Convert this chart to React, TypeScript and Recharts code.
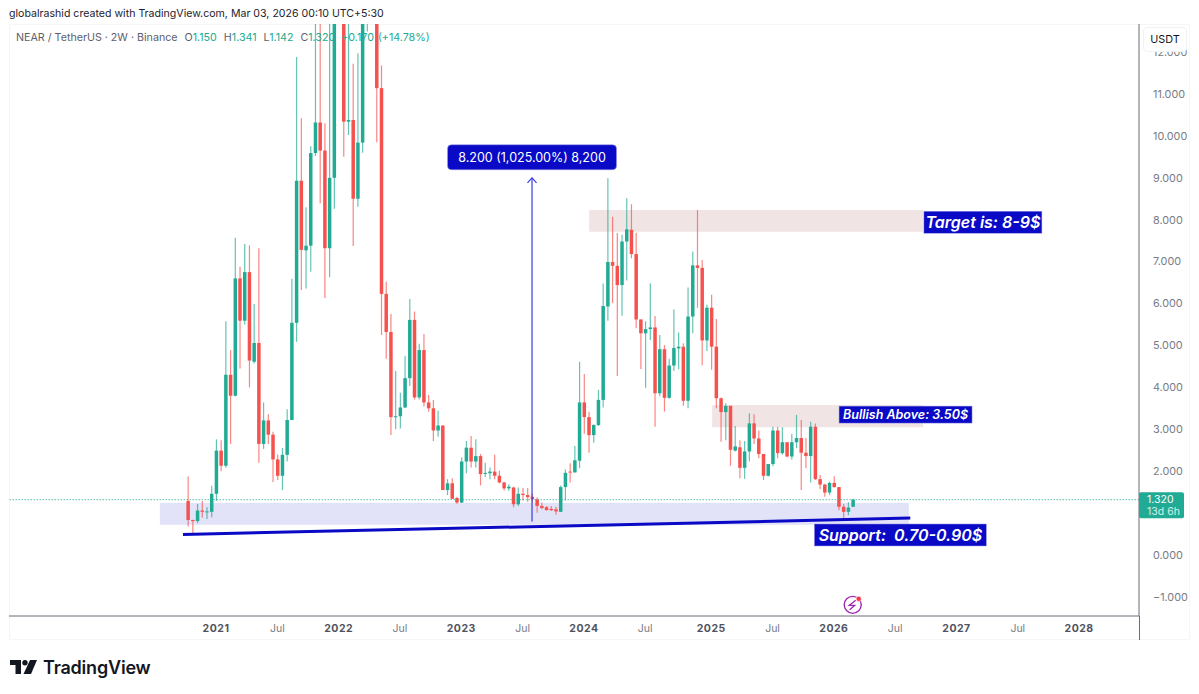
import { Bar, ComposedChart, ReferenceArea, ReferenceDot, ReferenceLine, XAxis, YAxis } from 'recharts'

const FONT = 'Inter, "Noto Sans", sans-serif'
const UP = '#22ab94'
const DOWN = '#f5524f'
const BLUE = '#0a0ac6'

// 2W candles. Values above the visible top are guesses.
const opens = [
  1.29, 0.835, 0.81, 1.06, 1.02, 1.03, 1.46, 2.49, 2.13, 4.3, 3.8, 6.6, 5.59, 6.75, 4.61, 5.06, 2.65, 3.21, 2.87, 2.28,
  1.89, 2.39, 3.22, 5.54, 8.93, 7.27, 7.38, 9.59, 10.32, 9.65, 7.32, 9.0, 14, 16, 10.34, 10.38, 8.5, 9.84, 13.5, 14.5,
  15, 11.14, 6.23, 5.32, 3.29, 3.31, 3.52, 4.22, 5.61, 3.76, 4.89, 3.64, 3.5, 2.97, 3.09, 1.55, 1.71, 1.36, 1.25, 2.23,
  2.56, 2.23, 2.36, 1.94, 1.95, 1.99, 1.89, 1.73, 1.59, 1.61, 1.21, 1.46, 1.43, 1.39, 1.33, 1.17, 1.14, 1.1, 1.09, 1.03,
  1.62, 1.99, 1.97, 2.25, 3.64, 3.29, 2.86, 3.1, 3.7, 5.93, 6.99, 6.9, 6.44, 7.48, 7.76, 7.18, 5.62, 5.29, 5.39, 5.43,
  3.86, 4.91, 3.75, 4.52, 4.93, 4.97, 3.68, 5.69, 6.91, 6.85, 5.12, 5.9, 4.97, 3.74, 3.41, 3.56, 2.49, 2.57, 2.08, 2.47,
  3.14, 2.78, 2.41, 1.89, 2.17, 2.97, 2.43, 2.69, 2.35, 2.69, 2.79, 2.44, 2.36, 3.06, 1.81, 1.68, 1.49, 1.72, 1.62, 1.15,
  1.03, 1.15,
]
const highs = [
  1.87, 0.84, 1.22, 1.29, 1.14, 1.65, 2.76, 2.74, 5.58, 4.89, 7.57, 6.88, 7.42, 7.39, 5.99, 7.32, 3.64, 3.36, 2.94, 2.4,
  2.55, 3.48, 6.59, 11.88, 10.42, 8.3, 9.75, 14, 14, 10.3, 14, 14.5, 20, 17, 14, 11.72, 11.97, 15, 15.5, 16,
  15.5, 11.68, 6.52, 5.75, 4.39, 3.87, 4.75, 6.11, 5.81, 5.04, 5.27, 3.82, 3.7, 3.44, 3.09, 1.81, 1.83, 1.39, 2.33, 2.72,
  2.84, 2.76, 2.41, 2.2, 2.09, 2.39, 2.01, 1.75, 1.69, 1.63, 1.61, 1.6, 1.6, 1.47, 1.38, 1.25, 1.17, 1.17, 1.15, 1.66,
  2.04, 2.19, 2.6, 4.61, 4.32, 3.42, 3.12, 3.94, 6.48, 8.99, 8.07, 7.68, 7.64, 8.51, 8.37, 7.69, 5.62, 5.58, 6.48, 5.7,
  5.25, 5.01, 4.68, 5.86, 5.31, 5.05, 6.38, 7.24, 8.23, 7.04, 5.97, 6.21, 5.63, 3.76, 3.62, 3.56, 3.08, 2.74, 2.72, 3.38,
  3.36, 2.97, 2.41, 2.17, 3.06, 3.06, 3.05, 2.69, 2.89, 3.34, 3.22, 2.79, 3.18, 3.14, 1.91, 1.7, 1.75, 1.88, 1.62, 1.22,
  1.26, 1.341,
]
const lows = [
  0.68, 0.52, 0.76, 0.89, 0.86, 0.9, 1.29, 2.0, 2.08, 2.65, 3.78, 4.45, 5.5, 4.0, 4.57, 2.2, 2.53, 2.65, 1.74, 1.79,
  1.55, 2.23, 3.22, 5.09, 6.32, 6.36, 6.76, 9.52, 8.39, 6.13, 6.63, 8.26, 13.5, 9.5, 10.02, 7.37, 8.31, 9.6, 12.49, 13.5,
  9.85, 5.25, 4.68, 2.86, 3.0, 3.02, 3.51, 4.03, 3.71, 3.71, 3.54, 3.42, 2.72, 2.82, 1.55, 1.43, 1.34, 1.22, 1.24, 1.95,
  2.09, 2.09, 1.66, 1.86, 1.81, 1.81, 1.71, 1.54, 1.53, 1.14, 1.17, 1.3, 1.27, 1.25, 1.01, 1.09, 1.06, 1.05, 0.96, 1.03,
  1.3, 1.73, 1.97, 2.07, 2.89, 2.44, 2.68, 3.08, 3.52, 5.59, 6.01, 4.27, 5.71, 6.55, 7.08, 5.41, 4.44, 3.99, 5.13, 3.06,
  3.79, 3.42, 3.73, 4.39, 4.43, 3.56, 3.5, 5.29, 5.9, 4.53, 4.87, 4.42, 3.5, 2.7, 2.74, 2.13, 2.47, 1.83, 1.82, 2.23,
  2.65, 2.31, 1.79, 1.87, 2.12, 2.31, 2.39, 2.33, 2.28, 2.55, 1.55, 2.07, 1.73, 1.79, 1.57, 1.39, 1.43, 1.61, 1.07, 0.83,
  0.95, 1.142,
]
const closes = [
  0.835, 0.81, 1.06, 1.03, 1.04, 1.46, 2.49, 2.13, 4.3, 3.8, 6.6, 5.59, 6.75, 4.64, 5.06, 2.65, 3.21, 2.87, 2.28, 1.89,
  2.39, 3.22, 5.54, 8.93, 7.28, 7.38, 9.59, 10.32, 9.65, 7.32, 9.0, 14, 16, 10.34, 10.38, 8.5, 9.84, 13.5, 14.5, 15,
  11.14, 6.23, 5.32, 3.29, 3.31, 3.52, 4.22, 5.61, 3.76, 4.89, 3.64, 3.5, 2.97, 3.09, 1.55, 1.71, 1.34, 1.25, 2.23, 2.56,
  2.23, 2.36, 1.93, 1.96, 1.99, 1.89, 1.73, 1.59, 1.63, 1.21, 1.46, 1.43, 1.38, 1.33, 1.17, 1.12, 1.07, 1.07, 1.04, 1.62,
  1.96, 1.97, 2.26, 3.64, 3.29, 2.86, 3.1, 3.7, 5.94, 6.99, 6.9, 6.44, 7.48, 7.77, 7.18, 5.62, 5.29, 5.39, 5.43, 3.86,
  4.91, 3.75, 4.52, 4.94, 4.97, 3.68, 5.69, 6.91, 6.85, 5.12, 5.9, 4.97, 3.74, 3.41, 3.56, 2.51, 2.59, 2.08, 2.47, 3.14,
  2.78, 2.41, 1.89, 2.17, 2.97, 2.43, 2.69, 2.35, 2.69, 2.79, 2.44, 2.36, 3.06, 1.81, 1.68, 1.49, 1.72, 1.62, 1.15, 1.03,
  1.13, 1.32,
]

const candles = opens.map((open, i) => ({ bar: i, open, high: highs[i], low: lows[i], close: closes[i] }))

const xTicks = [6, 19, 32, 45, 58, 71, 84, 97, 111, 124, 137, 150, 163, 176, 189]
const xLabels = ['2021', 'Jul', '2022', 'Jul', '2023', 'Jul', '2024', 'Jul', '2025', 'Jul', '2026', 'Jul', '2027', 'Jul', '2028']
const yTicks = [-1, 0, 2, 3, 4, 5, 6, 7, 8, 9, 10, 11, 12]

const xDomain = [-37.9, 201.7]
const yDomain = [-1.456, 12.67]
const lastPrice = 1.32

function Candle(props: any) {
  const { x, y, width, height, payload } = props
  const { open, high, low, close } = payload
  const k = height / (high - low)
  const top = y + (high - Math.max(open, close)) * k
  const bodyH = Math.max(Math.abs(open - close) * k, 1)
  const color = close >= open ? UP : DOWN
  const mid = x + width / 2
  return (
    <g>
      <line x1={mid} x2={mid} y1={y} y2={y + height} stroke={color} strokeWidth={1.2} strokeOpacity={0.7} />
      <rect x={x} y={top} width={width} height={bodyH} fill={color} />
    </g>
  )
}

function XTick({ x, y, payload }: any) {
  const label = xLabels[xTicks.indexOf(payload.value)]
  const isYear = label !== 'Jul'
  return (
    <text x={x} y={y + 8} textAnchor="middle" fontFamily={FONT} fontSize={10.5} fontWeight={isYear ? 700 : 400}
      letterSpacing={isYear ? 0.5 : 0} fill={isYear ? '#50535e' : '#787b86'}>
      {label}
    </text>
  )
}

// blue note with white text, centred on its anchor
const noteShape = (text: string, w: number, h: number, size: number, italic = true, radius = 0) => (p: any) => (
  <g>
    <rect x={p.cx - w / 2} y={p.cy - h / 2} width={w} height={h} rx={radius} fill={BLUE} stroke="#9a9ae6" strokeWidth={0.5} />
    <text x={p.cx} y={p.cy + size * 0.36} textAnchor="middle" fontFamily={FONT} fontSize={size}
      fontStyle={italic ? 'italic' : 'normal'} fontWeight={italic ? 600 : 400} fill="#fff">
      {text}
    </text>
  </g>
)

const arrowHead = (p: any) => (
  <path d={`M${p.cx - 4.5} ${p.cy + 5} L${p.cx} ${p.cy} L${p.cx + 4.5} ${p.cy + 5}`} fill="none" stroke="#3b3be0" strokeWidth={1.2} />
)

const priceTag = (p: any) => (
  <g fontFamily={FONT} fontSize={10.5}>
    <rect x={p.cx} y={p.cy - 7.5} width={45} height={26} rx={2} fill={UP} />
    <text x={p.cx + 8} y={p.cy + 3.5} fill="#fff">1.320</text>
    <text x={p.cx + 8} y={p.cy + 15.5} fill="#d3efe9">13d 6h</text>
  </g>
)

const boltIcon = (p: any) => (
  <g>
    <circle cx={p.cx} cy={p.cy} r={8.5} fill="#fff" stroke="#9c27b0" strokeWidth={1.4} />
    <path d={`M${p.cx + 3} ${p.cy - 4.5} L${p.cx - 3.5} ${p.cy + 0.5} L${p.cx + 2} ${p.cy + 0.5} L${p.cx - 3} ${p.cy + 5}`}
      fill="none" stroke="#9c27b0" strokeWidth={1.3} />
    <circle cx={p.cx + 6} cy={p.cy - 6} r={2.6} fill="#f23645" stroke="#fff" strokeWidth={0.6} />
  </g>
)

const abs = (left: number, top: number): any => ({ position: 'absolute', left, top, whiteSpace: 'nowrap' })

export default function App() {
  return (
    <div style={{ position: 'absolute', left: 0, top: 0, width: 1199, height: 694, background: '#fff', overflow: 'hidden', fontFamily: FONT }}>
      <div style={{ ...abs(9, 24), width: 1181, height: 616, boxSizing: 'border-box', border: '1px solid #f6f6f7' }} />
      <ComposedChart width={1199} height={694} data={candles} margin={{ top: 24, right: 9, bottom: 54, left: 9 }} style={{ position: 'absolute', left: 0, top: 0 }}>
        <XAxis dataKey="bar" type="number" domain={xDomain} allowDataOverflow ticks={xTicks} interval={0}
          tick={<XTick />} tickLine={false} axisLine={{ stroke: '#6a6d78' }} height={24} />
        <YAxis orientation="right" type="number" domain={yDomain} allowDataOverflow ticks={yTicks} interval={0}
          width={51} tickLine={false} axisLine={{ stroke: '#6a6d78' }} tickMargin={8}
          tick={{ fontSize: 10.8, fill: '#787b86', fontFamily: FONT, textAnchor: 'start' }}
          tickFormatter={(v: number) => (v < 0 ? '\u2212' : '') + Math.abs(v).toFixed(3)} />
        <ReferenceArea x1={85.1} x2={155.9} y1={7.71} y2={8.23} fill="#a85a5a" fillOpacity={0.16} stroke="none" />
        <ReferenceArea x1={111.2} x2={155.9} y1={3.05} y2={3.58} fill="#a85a5a" fillOpacity={0.16} stroke="none" />
        <ReferenceArea x1={-5.9} x2={152.9} y1={0.72} y2={1.24} fill="#3c3cd2" fillOpacity={0.15} stroke="none" />
        <ReferenceLine y={lastPrice} stroke={UP} strokeOpacity={0.75} strokeDasharray="1.5 1.5" />
        <Bar dataKey={(d: any) => [d.low, d.high]} barSize={3.5} shape={<Candle />} isAnimationActive={false} />
        <ReferenceLine segment={[{ x: -1, y: 0.49 }, { x: 153.2, y: 0.88 }]} stroke={BLUE} strokeWidth={3} />
        <ReferenceLine segment={[{ x: 73, y: 0.8 }, { x: 73, y: 9.0 }]} stroke="#3b3be0" strokeWidth={1.2} />
        <ReferenceDot x={73} y={9.0} shape={arrowHead} />
        <ReferenceDot x={73} y={9.49} shape={noteShape('8.200 (1,025.00%) 8,200', 169, 25, 12.5, false, 4)} />
        <ReferenceDot x={168.6} y={7.94} shape={noteShape('Target is: 8-9$', 118, 22, 16)} />
        <ReferenceDot x={152.2} y={3.35} shape={noteShape('Bullish Above: 3.50$', 133, 17, 12.5)} />
        <ReferenceDot x={151.1} y={0.477} shape={noteShape('Support:\u00a0\u00a00.70-0.90$', 172, 22, 16)} />
        <ReferenceDot x={141} y={-1.19} shape={boltIcon} />
        <ReferenceDot x={xDomain[1]} y={lastPrice} shape={priceTag} />
      </ComposedChart>

      <div style={{ ...abs(1139, 616), width: 1, height: 24, background: '#6a6d78' }} />
      <div style={{ ...abs(9, 7), fontSize: 10.6, color: '#1e222d', lineHeight: '14px' }}>
        globalrashid created with TradingView.com, Mar 03, 2026 00:10 UTC+5:30
      </div>
      <div style={{ ...abs(16, 31), fontSize: 10.7, lineHeight: '14px', color: '#5d606b' }}>
        <span>NEAR / TetherUS · 2W · Binance</span>
        <span style={{ marginLeft: 7 }}>O<span style={{ color: UP }}>1.150</span></span>
        <span style={{ marginLeft: 7 }}>H<span style={{ color: UP }}>1.341</span></span>
        <span style={{ marginLeft: 7 }}>L<span style={{ color: UP }}>1.142</span></span>
        <span style={{ marginLeft: 7 }}>C<span style={{ color: UP }}>1.320</span></span>
        <span style={{ marginLeft: 6, color: UP }}>+0.170</span>
        <span style={{ marginLeft: 4, color: UP }}>(+14.78%)</span>
      </div>
      <div style={{ ...abs(1143, 27), width: 44, height: 25, boxSizing: 'border-box', border: '1px solid #f2f2f3', borderRadius: 4, background: '#fff', fontSize: 10.8, color: '#131722', textAlign: 'center', lineHeight: '23px' }}>
        USDT
      </div>
      <svg style={abs(10, 660)} width={27} height={14} viewBox="0 0 27 14">
        <path d="M0 0H11V14H5.5V5H0Z" fill="#131722" />
        <circle cx={15} cy={2.7} r={2.7} fill="#131722" />
        <path d="M20 0H27L21 14H13.5Z" fill="#131722" />
      </svg>
      <div style={{ ...abs(43, 657), fontSize: 18, fontWeight: 600, color: '#131722', lineHeight: '22px', letterSpacing: -0.2 }}>
        TradingView
      </div>
    </div>
  )
}
